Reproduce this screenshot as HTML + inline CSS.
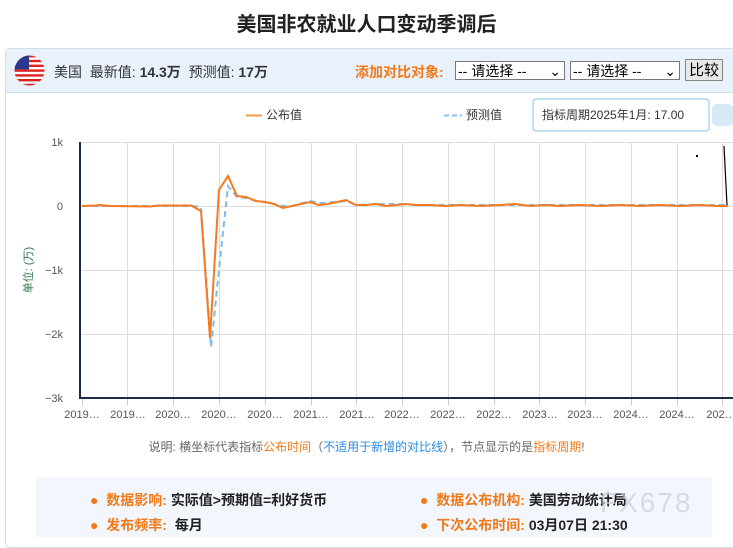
<!DOCTYPE html>
<html><head><meta charset="utf-8"><style>
body{margin:0;width:733px;height:537px;background:#fff;font-family:"Liberation Sans","Noto Sans CJK SC",sans-serif;position:relative;overflow:hidden}
.a{position:absolute;white-space:nowrap}
.sel{position:absolute;top:61px;height:19px;border:1px solid #777;background:#fff;font-size:14px;line-height:19px;box-sizing:border-box;padding-left:2px}
</style></head><body>
<div class="a" style="left:0;width:733px;top:8px;text-align:center;font-size:20px;font-weight:bold;color:#222">美国非农就业人口变动季调后</div>
<div class="a" style="left:5px;top:48px;width:740px;height:500px;border:1px solid #cfdcec;border-radius:4px;box-sizing:border-box"></div>
<div class="a" style="left:6px;top:49px;width:727px;height:43px;background:#e9f1fb;border-bottom:1px solid #cfdcec"></div>
<svg class="a" style="left:14px;top:55px" width="31" height="31" viewBox="0 0 31 31"><defs><clipPath id="c"><circle cx="15.5" cy="15.5" r="15"/></clipPath></defs><g clip-path="url(#c)"><rect width="31" height="31" fill="#fff"/><g fill="#d22">
<rect y="0" width="31" height="2.4"/><rect y="4.8" width="31" height="2.4"/><rect y="9.6" width="31" height="2.4"/><rect y="14.4" width="31" height="2.4"/><rect y="19.2" width="31" height="2.4"/><rect y="24" width="31" height="2.4"/><rect y="28.8" width="31" height="2.4"/></g><rect width="15" height="14.4" fill="#2a3a8a"/></g></svg>
<div class="a" style="left:54px;top:62px;font-size:14px;color:#333">美国 &nbsp;最新值: <b>14.3万</b> &nbsp;预测值: <b>17万</b></div>
<div class="a" style="left:355px;top:62px;font-size:14px;color:#f07a1a;font-weight:bold">添加对比对象:</div>
<div class="sel" style="left:455px;width:110px">-- 请选择 --<span style="float:right;padding-right:3px">⌄</span></div>
<div class="sel" style="left:570px;width:110px">-- 请选择 --<span style="float:right;padding-right:3px">⌄</span></div>
<div class="a" style="left:685px;top:59px;width:38px;height:22px;border:1px solid #888;background:#e8e8e8;font-size:15px;text-align:center;line-height:22px;box-sizing:border-box">比较</div>
<svg class="a" style="left:0;top:93px" width="733" height="340" viewBox="0 93 733 340">
<g stroke="#ddd" stroke-width="1">
<line x1="80" y1="142.5" x2="733" y2="142.5"/><line x1="80" y1="206.5" x2="733" y2="206.5"/><line x1="80" y1="270.5" x2="733" y2="270.5"/><line x1="80" y1="334.5" x2="733" y2="334.5"/>
<line x1="127.5" y1="142" x2="127.5" y2="398"/><line x1="173.5" y1="142" x2="173.5" y2="398"/><line x1="219.5" y1="142" x2="219.5" y2="398"/><line x1="265.5" y1="142" x2="265.5" y2="398"/><line x1="311.5" y1="142" x2="311.5" y2="398"/><line x1="356.5" y1="142" x2="356.5" y2="398"/><line x1="402.5" y1="142" x2="402.5" y2="398"/><line x1="448.5" y1="142" x2="448.5" y2="398"/><line x1="494.5" y1="142" x2="494.5" y2="398"/><line x1="539.5" y1="142" x2="539.5" y2="398"/><line x1="585.5" y1="142" x2="585.5" y2="398"/><line x1="631.5" y1="142" x2="631.5" y2="398"/><line x1="677.5" y1="142" x2="677.5" y2="398"/><line x1="722.5" y1="142" x2="722.5" y2="398"/>
</g>
<g stroke="#ccc"><line x1="82.5" y1="398" x2="82.5" y2="405"/><line x1="127.5" y1="398" x2="127.5" y2="405"/><line x1="173.5" y1="398" x2="173.5" y2="405"/><line x1="219.5" y1="398" x2="219.5" y2="405"/><line x1="265.5" y1="398" x2="265.5" y2="405"/><line x1="311.5" y1="398" x2="311.5" y2="405"/><line x1="356.5" y1="398" x2="356.5" y2="405"/><line x1="402.5" y1="398" x2="402.5" y2="405"/><line x1="448.5" y1="398" x2="448.5" y2="405"/><line x1="494.5" y1="398" x2="494.5" y2="405"/><line x1="539.5" y1="398" x2="539.5" y2="405"/><line x1="585.5" y1="398" x2="585.5" y2="405"/><line x1="631.5" y1="398" x2="631.5" y2="405"/><line x1="677.5" y1="398" x2="677.5" y2="405"/><line x1="722.5" y1="398" x2="722.5" y2="405"/></g>
<path d="M80,142 V398 H733" fill="none" stroke="#1e2a4a" stroke-width="2"/>
<polyline fill="none" stroke="#7dbbea" stroke-width="2" stroke-dasharray="6,4" points="82,206 120,206 150,206 192,206 201,207 211,347 220,260 228,186 237,197 246,198 256,201 265,202 283,206 292,206 310,201 320,203 337,202 346,201 356,205 380,204 400,204 420,205 450,205 480,205 520,205 560,205 600,205 640,205 680,205 728,205"/>
<polyline fill="none" stroke="#f57a1f" stroke-width="2" points="82,206 95,205.5 100,205 110,206 150,206.5 158,205.5 191,205.5 201,211 210,338 219,190 228,176 237,196 246,197 256,201 265,202 274,204 283,208 292,206 301,204 310,202 319,205 328,204 337,202 346,200 356,205 366,205 376,204 386,206 396,205 406,204 416,205 430,205 445,206 460,205 480,206 500,205 515,204 530,206 545,205 560,206 580,205 600,206 620,205 640,206 660,205 680,206 700,205 715,206 728,206"/>
<path d="M724,146 L727,205" stroke="#000" stroke-width="1.2"/>
<rect x="696" y="155" width="2" height="2" fill="#000"/>
<g font-size="11" fill="#555" text-anchor="end"><text x="63" y="146">1k</text><text x="63" y="210">0</text><text x="63" y="274">−1k</text><text x="63" y="338">−2k</text><text x="63" y="402">−3k</text></g>
<g font-size="11" fill="#555" text-anchor="middle"><text x="82" y="418">2019…</text><text x="128" y="418">2019…</text><text x="173" y="418">2020…</text><text x="219" y="418">2020…</text><text x="265" y="418">2020…</text><text x="311" y="418">2021…</text><text x="357" y="418">2021…</text><text x="402" y="418">2022…</text><text x="448" y="418">2022…</text><text x="494" y="418">2022…</text><text x="540" y="418">2023…</text><text x="585" y="418">2023…</text><text x="631" y="418">2024…</text><text x="677" y="418">2024…</text><text x="721" y="418">202…</text></g>
<text x="32" y="270" font-size="11" fill="#2a7a4a" transform="rotate(-90 32 270)" text-anchor="middle">单位: (万)</text>
<line x1="246" y1="115.5" x2="262" y2="115.5" stroke="#f59a4a" stroke-width="2"/>
<text x="266" y="119" font-size="12" fill="#333">公布值</text>
<line x1="444" y1="115.5" x2="462" y2="115.5" stroke="#88c4ee" stroke-width="2" stroke-dasharray="5,3"/>
<text x="466" y="119" font-size="12" fill="#333">预测值</text>
<rect x="533" y="99" width="176" height="32" rx="3" fill="#fff" stroke="#88c4ee"/>
<text x="542" y="119" font-size="12" fill="#333">指标周期2025年1月: 17.00</text>
<rect x="712" y="104" width="21" height="22" rx="5" fill="#d8eaf8"/>
</svg>
<div class="a" style="left:0;width:733px;top:438px;text-align:center;font-size:12px;color:#666">说明: 横坐标代表指标<span style="color:#f07a1a">公布时间</span>（<span style="color:#2a8ae0">不适用于新增的对比线</span>），节点显示的是<span style="color:#f07a1a">指标周期</span>!</div>
<div class="a" style="left:36px;top:477px;width:676px;height:60px;background:#f3f7fd"></div>
<div class="a" style="left:90px;top:490px;font-size:14px"><span style="color:#f07a1a">●</span>&nbsp; <b style="color:#f07a1a">数据影响:</b> <b style="color:#222">实际值&gt;预期值=利好货币</b></div>
<div class="a" style="left:90px;top:515px;font-size:14px"><span style="color:#f07a1a">●</span>&nbsp; <b style="color:#f07a1a">发布频率:</b> &nbsp;<b style="color:#222">每月</b></div>
<div class="a" style="left:420px;top:490px;font-size:14px"><span style="color:#f07a1a">●</span>&nbsp; <b style="color:#f07a1a">数据公布机构:</b> <b style="color:#222">美国劳动统计局</b></div>
<div class="a" style="left:420px;top:515px;font-size:14px"><span style="color:#f07a1a">●</span>&nbsp; <b style="color:#f07a1a">下次公布时间:</b> <b style="color:#222">03月07日 21:30</b></div>
<div class="a" style="left:600px;top:487px;font-size:28px;color:rgba(200,205,215,0.7);letter-spacing:2px">FX678</div>
</body></html>
